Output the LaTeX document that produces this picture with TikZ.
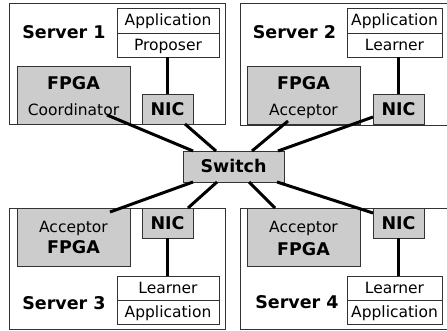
\documentclass[tikz,border=0pt]{standalone}
\usepackage{fontspec}
\setmainfont{DejaVu Sans}
\usetikzlibrary{calc}
\newcommand{\rfont}{\fontsize{15.5}{18}\selectfont}
\newcommand{\bfnt}{\fontsize{17.5}{20}\selectfont\bfseries}
\begin{document}
\begin{tikzpicture}[x=1pt,y=-1pt,
  box/.style={draw=black!80, line width=0.8pt, anchor=north west, inner sep=0pt, outer sep=0pt},
  srv/.style={box, fill=white},
  gbox/.style={box, fill=black!20},
  wbox/.style={box, fill=white, font=\rfont, text height=12pt, text depth=1pt},
  nicbox/.style={gbox, font=\bfnt, text height=13pt, text depth=0pt},
  rtxt/.style={font=\rfont, anchor=base, inner sep=0pt},
  btxt/.style={font=\bfnt, anchor=base, inner sep=0pt},
  link/.style={line width=3pt, black}]
\useasboundingbox (0,0) rectangle (447,331);
\clip (0,0) rectangle (447,331);
% servers
\node[srv, minimum width=216pt, minimum height=121pt] (s1) at (9,3) {};
\node[srv, minimum width=220pt, minimum height=122pt] (s2) at (240,3) {};
\node[srv, minimum width=216pt, minimum height=121pt] (s3) at (9,208) {};
\node[srv, minimum width=220pt, minimum height=121pt] (s4) at (240,208) {};
% server labels
\node[btxt] (l1) at ($(s1.north west)+(55,36)$) {Server 1};
\node[btxt] (l2) at ($(s2.north west)+(54.5,36)$) {Server 2};
\node[btxt] (l3) at ($(s3.north west)+(55,101)$) {Server 3};
\node[btxt] (l4) at ($(s4.north west)+(57,100)$) {Server 4};
% server 1
\node[wbox, minimum width=102pt, minimum height=25pt] (app1) at (117,8) {Application};
\node[wbox, minimum width=102pt, minimum height=24pt] (prop1) at (117,33) {Proposer};
\node[gbox, minimum width=113pt, minimum height=58pt] (f1) at (17,66) {};
\node[btxt] (f1a) at ($(f1.north)+(0,24)$) {FPGA};
\node[rtxt] (f1b) at ($(f1.north)+(0,50)$) {Coordinator};
\node[nicbox, minimum width=51pt, minimum height=30pt] (n1) at (142,94) {NIC};
% server 2
\node[wbox, minimum width=95pt, minimum height=25pt] (app2) at (347,8) {Application};
\node[wbox, minimum width=95pt, minimum height=24pt] (lrn2) at (347,33) {Learner};
\node[gbox, minimum width=113pt, minimum height=58pt] (f2) at (247,66) {};
\node[btxt] (f2a) at ($(f2.north)+(0,24)$) {FPGA};
\node[rtxt] (f2b) at ($(f2.north)+(0,50)$) {Acceptor};
\node[nicbox, minimum width=51pt, minimum height=30pt] (n2) at (373,94) {NIC};
% server 3
\node[gbox, minimum width=113pt, minimum height=58pt] (f3) at (17,208) {};
\node[rtxt] (f3b) at ($(f3.north)+(0,25)$) {Acceptor};
\node[btxt] (f3a) at ($(f3.north)+(0,46)$) {FPGA};
\node[nicbox, minimum width=51pt, minimum height=30pt] (n3) at (142,208) {NIC};
\node[wbox, minimum width=102pt, minimum height=24pt] (lrn3) at (117,276) {Learner};
\node[wbox, minimum width=102pt, minimum height=24pt] (app3) at (117,300) {Application};
% server 4
\node[gbox, minimum width=113pt, minimum height=58pt] (f4) at (247,208) {};
\node[rtxt] (f4b) at ($(f4.north)+(0,25)$) {Acceptor};
\node[btxt] (f4a) at ($(f4.north)+(0,47)$) {FPGA};
\node[nicbox, minimum width=51pt, minimum height=30pt] (n4) at (373,208) {NIC};
\node[wbox, minimum width=95pt, minimum height=24pt] (lrn4) at (347,276) {Learner};
\node[wbox, minimum width=95pt, minimum height=24pt] (app4) at (347,300) {Application};
% switch
\node[nicbox, minimum width=101pt, minimum height=31pt] (sw) at (183,151) {Switch};
% vertical links
\draw[link] (n1.north) -- (n1.north |- prop1.south);
\draw[link] (n2.north) -- (n2.north |- lrn2.south);
\draw[link] (n3.south) -- (n3.south |- lrn3.north);
\draw[link] (n4.south) -- (n4.south |- lrn4.north);
% switch links
\draw[link] ($(f1.south east)+(-23,-9)$) -- ($(sw.north west)+(10,0)$);
\draw[link] ($(n1.south east)+(-8,0)$) -- ($(sw.north west)+(33,0)$);
\draw[link] ($(f2.south)+(-15.5,-3)$) -- ($(sw.north east)+(-32,0)$);
\draw[link] ($(n2.south west)+(0,-7)$) -- ($(sw.north east)+(-6,0)$);
\draw[link] ($(f3.north east)+(-20,4)$) -- ($(sw.south west)+(10,0)$);
\draw[link] ($(n3.north east)+(-5,0)$) -- ($(sw.south west)+(34,0)$);
\draw[link] ($(f4.north west)+(28,0)$) -- ($(sw.south east)+(-35,0)$);
\draw[link] ($(n4.north west)+(0,5)$) -- ($(sw.south east)+(-7,0)$);
\end{tikzpicture}
\end{document}
